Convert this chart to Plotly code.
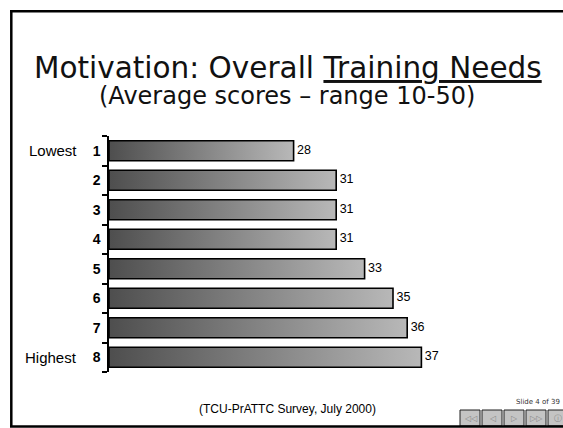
import plotly.graph_objects as go

# ---- data ----
categories = ["1", "2", "3", "4", "5", "6", "7", "8"]
scores = [28, 31, 31, 31, 33, 35, 36, 37]
side_labels = ["Lowest", "", "", "", "", "", "", "Highest"]
axis_range = [15, 40]
title_main = "Motivation: Overall <u>Training Needs</u>"
title_sub = "(Average scores \u2013 range 10-50)"
source_text = "(TCU-PrATTC Survey, July 2000)"
slide_text = "Slide 4 of 39"
nav_symbols = ["\u25c1\u25c1", "\u25c1", "\u25b7", "\u25b7\u25b7", "\u24d8"]

W, H = 563, 428
BAR_HALF = 0.34


def px(x):
    return x / W


def py(y):
    return 1 - y / H


fig = go.Figure()

positions = list(range(1, len(categories) + 1))

# gradient-filled bars (one closed path per bar, in data coordinates)
for pos, v in zip(positions, scores):
    fig.add_trace(go.Scatter(
        x=[axis_range[0], v, v, axis_range[0], axis_range[0]],
        y=[pos - BAR_HALF, pos - BAR_HALF, pos + BAR_HALF, pos + BAR_HALF, pos - BAR_HALF],
        mode="lines",
        fill="toself",
        fillgradient=dict(type="horizontal",
                          colorscale=[[0, "#4e4e4e"], [1, "#b8b8b8"]]),
        line=dict(color="black", width=1.6),
        hoverinfo="skip",
        showlegend=False,
    ))

# value labels
fig.add_trace(go.Scatter(
    x=scores,
    y=positions,
    mode="text",
    text=["\u00a0" + str(s) for s in scores],
    textposition="middle right",
    textfont=dict(family="Liberation Sans, Arial, sans-serif", size=12.5, color="black"),
    hoverinfo="skip",
    showlegend=False,
))

fig.update_layout(
    width=W,
    height=H,
    margin=dict(l=0, r=0, t=0, b=0),
    paper_bgcolor="white",
    plot_bgcolor="white",
    showlegend=False,
    xaxis=dict(
        domain=[px(109), px(109 + 25 * 14.2)],
        range=axis_range,
        visible=False,
    ),
    yaxis=dict(
        domain=[py(372), py(136)],
        range=[len(categories) + 0.5, 0.5],
        tickmode="array",
        tickvals=positions,
        ticktext=["<b>%s</b>" % c for c in categories],
        ticks="",
        ticklabelstandoff=4,
        tickfont=dict(family="Liberation Sans, Arial, sans-serif", size=14, color="black"),
        showline=True,
        linecolor="black",
        linewidth=1.5,
        showgrid=False,
        zeroline=False,
        minor=dict(
            tickmode="array",
            tickvals=[p - 0.5 for p in positions] + [positions[-1] + 0.5],
            ticks="outside",
            ticklen=5,
            tickwidth=1.5,
            tickcolor="black",
            showgrid=False,
        ),
    ),
)

annotations = []
# Lowest / Highest
for pos, lab in zip(positions, side_labels):
    if lab:
        annotations.append(dict(
            x=px(79), xref="paper", xanchor="right",
            y=pos, yref="y", yanchor="middle",
            text=lab, showarrow=False,
            font=dict(family="Liberation Sans, Arial, sans-serif", size=15, color="black"),
        ))

# titles
annotations.append(dict(
    x=px(288), xref="paper", xanchor="center",
    y=py(68), yref="paper", yanchor="middle",
    text=title_main, showarrow=False,
    font=dict(family="DejaVu Sans, sans-serif", size=29.5, color="#111111"),
))
annotations.append(dict(
    x=px(287), xref="paper", xanchor="center",
    y=py(96), yref="paper", yanchor="middle",
    text=title_sub, showarrow=False,
    font=dict(family="DejaVu Sans, sans-serif", size=24, color="#111111"),
))
# source
annotations.append(dict(
    x=px(287.5), xref="paper", xanchor="center",
    y=py(409), yref="paper", yanchor="middle",
    text=source_text, showarrow=False,
    font=dict(family="Liberation Sans, Arial, sans-serif", size=12, color="black"),
))
# slide counter
annotations.append(dict(
    x=px(562), xref="paper", xanchor="right",
    y=py(402), yref="paper", yanchor="middle",
    text=slide_text, showarrow=False,
    font=dict(family="DejaVu Sans, sans-serif", size=7, color="#333333"),
))

shapes = []
# slide frame: left, top and bottom edges (right edge lies beyond the picture)
frame_lines = [
    (11.3, 10, 11.3, 427),
    (10, 11.3, W + 5, 11.3),
    (10, 426.5, W + 5, 426.5),
]
for x0, y0, x1, y1 in frame_lines:
    shapes.append(dict(
        type="line", xref="paper", yref="paper",
        x0=px(x0), x1=px(x1), y0=py(y0), y1=py(y1),
        line=dict(color="black", width=2.5), layer="above",
    ))
# navigation buttons
btn_x = [460, 482, 504, 526, 548]
for bx, sym in zip(btn_x, nav_symbols):
    bw = 20
    shapes.append(dict(
        type="rect", xref="paper", yref="paper",
        x0=px(bx), x1=px(bx + bw), y0=py(426), y1=py(410),
        line=dict(color="#202020", width=1), fillcolor="#c4c4c4", layer="below",
    ))
    annotations.append(dict(
        x=px(bx + bw / 2), xref="paper", xanchor="center",
        y=py(418), yref="paper", yanchor="middle",
        text=sym, showarrow=False,
        font=dict(family="DejaVu Sans, sans-serif", size=8, color="#8a8a8a"),
    ))

fig.update_layout(annotations=annotations, shapes=shapes)

fig.write_html(
    "out.html",
    config={"displayModeBar": False},
    post_script="document.body.style.margin='0';document.body.style.overflow='hidden';",
)
